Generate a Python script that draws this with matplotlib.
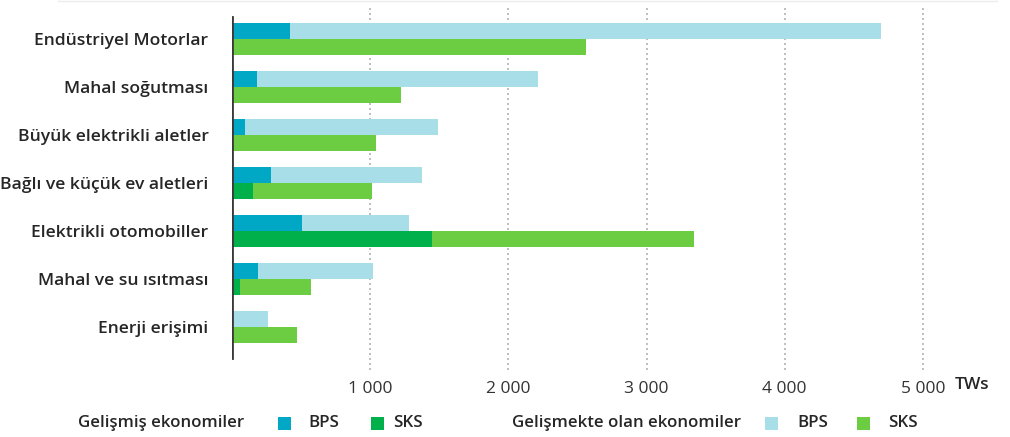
import matplotlib
matplotlib.use("Agg")
import matplotlib.pyplot as plt
from matplotlib.patches import Rectangle
from matplotlib.lines import Line2D

plt.rcParams['font.family'] = ['Open Sans', 'DejaVu Sans']

categories = [
    "Endüstriyel Motorlar",
    "Mahal soğutması",
    "Büyük elektrikli aletler",
    "Bağlı ve küçük ev aletleri",
    "Elektrikli otomobiller",
    "Mahal ve su ısıtması",
    "Enerji erişimi",
]
# TWs; BPS and SKS, split into developed / developing economies
bps_developed = [420, 180, 95, 280, 505, 190, 0]
bps_developing = [4275, 2035, 1395, 1095, 775, 830, 260]
sks_developed = [0, 0, 0, 150, 1445, 60, 0]
sks_developing = [2565, 1225, 1045, 860, 1895, 510, 470]

xticks = [1000, 2000, 3000, 4000, 5000]
xtick_labels = ["1 000", "2 000", "3 000", "4 000", "5 000"]
unit_label = "TWs"

c_bps_dev = "#00A8C6"
c_sks_dev = "#00B04A"
c_bps_ing = "#A7DEE7"
c_sks_ing = "#6CCD42"
text_color = "#262626"

W, H = 1010, 437
fig = plt.figure(figsize=(W / 100, H / 100), dpi=100)
ax_left, ax_right, ax_top, ax_bottom = 232, 992, 7, 370
ax = fig.add_axes([ax_left / W, 1 - ax_bottom / H,
                   (ax_right - ax_left) / W, (ax_bottom - ax_top) / H])

n = len(categories)
pos = list(range(n))
h = 1 / 3
y_bps = [p - h / 2 for p in pos]
y_sks = [p + h / 2 for p in pos]

ax.barh(y_bps, bps_developed, height=h, color=c_bps_dev, zorder=3)
ax.barh(y_bps, bps_developing, left=bps_developed, height=h, color=c_bps_ing, zorder=3)
ax.barh(y_sks, sks_developed, height=h, color=c_sks_dev, zorder=3)
ax.barh(y_sks, sks_developing, left=sks_developed, height=h, color=c_sks_ing, zorder=3)

ax.set_xlim(0, 5500)
ax.set_ylim(n - 1 + 0.9, -0.667)

for s in ax.spines.values():
    s.set_visible(False)
ax.axvline(0, ymin=0.033, ymax=0.972, color="#3a3a3a", lw=2, zorder=4)

ax.set_xticks(xticks)
ax.set_xticklabels(xtick_labels, fontsize=12.5, color="#333333")
ax.tick_params(axis="x", length=0, pad=8)
ax.xaxis.grid(True, linestyle=(0, (1.2, 1.8)), color="#b3b3b3", lw=1.2, zorder=0)
ax.set_yticks(pos)
ax.set_yticklabels(categories, fontsize=12.6, fontweight="semibold", color=text_color)
ax.tick_params(axis="y", length=0, pad=17)

fig.text(972 / W, 1 - 385 / H, unit_label, fontsize=12.5, fontweight="semibold",
         color=text_color, ha="center", va="center")

# faint rule along the top edge
fig.add_artist(Line2D([58 / W, 997 / W], [1 - 1 / H, 1 - 1 / H],
                      color="#ececec", lw=1))

# legend row
ly = 1 - 423 / H
sq = 13
def swatch(x, color):
    fig.add_artist(Rectangle((x / W, ly - sq / 2 / H), sq / W, sq / H,
                             facecolor=color, edgecolor="none",
                             transform=fig.transFigure))

def ltext(x, s):
    fig.text(x / W, ly, s, fontsize=12.2, fontweight="semibold",
             color=text_color, ha="left", va="center")

ltext(78, "Gelişmiş ekonomiler")
swatch(278, c_bps_dev)
ltext(308, "BPS")
swatch(371, c_sks_dev)
ltext(393, "SKS")
ltext(512, "Gelişmekte olan ekonomiler")
swatch(765, c_bps_ing)
ltext(797, "BPS")
swatch(857, c_sks_ing)
ltext(888, "SKS")

fig.savefig("out.png", dpi=100, facecolor="white")
